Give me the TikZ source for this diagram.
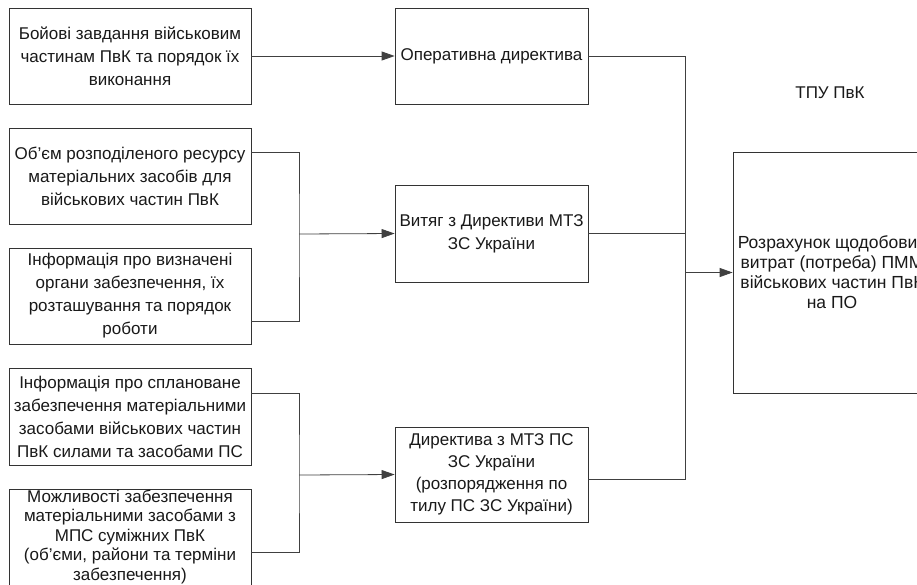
\documentclass[tikz,border=0pt]{standalone}
\usepackage{fontspec}
\setmainfont{Liberation Sans}
\usetikzlibrary{arrows.meta}
\begin{document}
\begin{tikzpicture}[x=1pt,y=-1pt,
  box/.style={draw=black!80, line width=0.8pt, minimum width=242pt, minimum height=96pt,
    align=center, inner sep=0pt, font=\fontsize{17}{23}\selectfont, text=black!90},
  midbox/.style={box, minimum width=193pt},
  conn/.style={draw=black!75, line width=0.8pt},
  arr/.style={conn, -{Triangle[length=13pt,width=9pt]}}]
\useasboundingbox (0,0) rectangle (917,584);
\clip (0,0) rectangle (917,584);
\fill[white] (0,0) rectangle (917,584);
% left column
\node[box] (b1) at (130,56) {Бойові завдання військовим\\частинам ПвК та порядок їх\\виконання};
\node[box] (b2) at (130,176) {Об’єм розподіленого ресурсу\\матеріальних засобів для\\військових частин ПвК};
\node[box] (b3) at (130,296) {Інформація про визначені\\органи забезпечення, їх\\розташування та порядок\\роботи};
\node[box, minimum height=97pt] (b4) at (130,416.5) {Інформація про сплановане\\забезпечення матеріальними\\засобами військових частин\\ПвК силами та засобами ПС};
\node[box, font=\fontsize{17}{19.5}\selectfont] (b5) at (130,537) {Можливості забезпечення\\матеріальними засобами з\\МПС суміжних ПвК\\(об’єми, райони та терміни\\забезпечення)};
% middle column
\node[midbox] (od) at (491.5,56) {Оперативна директива};
\node[midbox, minimum height=97pt] (vit) at (491.5,233.5) {Витяг з Директиви МТЗ\\ЗС України};
\node[midbox, minimum height=95pt, font=\fontsize{17}{22}\selectfont] (dir) at (491.5,474.5) {Директива з МТЗ ПС\\ЗС України\\(розпорядження по\\тилу ПС ЗС України)};
% right
\node[box, minimum width=198pt, minimum height=241pt, font=\fontsize{17.5}{20}\selectfont] (big) at (832,272.5) {Розрахунок щодобових\\витрат (потреба) ПММ\\військових частин ПвК\\на ПО};
\node[font=\fontsize{17}{20}\selectfont, text=black!90] (tpu) at (830,93) {ТПУ ПвК};
% junctions
\coordinate (j1) at (299,234);
\coordinate (j2) at (299,475);
\coordinate (j3) at (685,272.5);
% connectors
\draw[arr] (b1.east) -- (od.west);
\draw[conn] ([yshift=24pt]b2.east) -| (j1) |- ([yshift=-25pt]b3.east);
\draw[arr] (j1) -- (vit.west);
\draw[conn] ([yshift=23.5pt]b4.east) -| (j2) |- ([yshift=-15pt]b5.east);
\draw[arr] (j2) -- (dir.west);
\draw[conn] (od.east) -| (j3);
\draw[conn] (vit.east) -| (j3);
\draw[conn] ([yshift=-4.5pt]dir.east) -| (j3);
\draw[arr] (j3) -- (big.west);
\end{tikzpicture}
\end{document}
